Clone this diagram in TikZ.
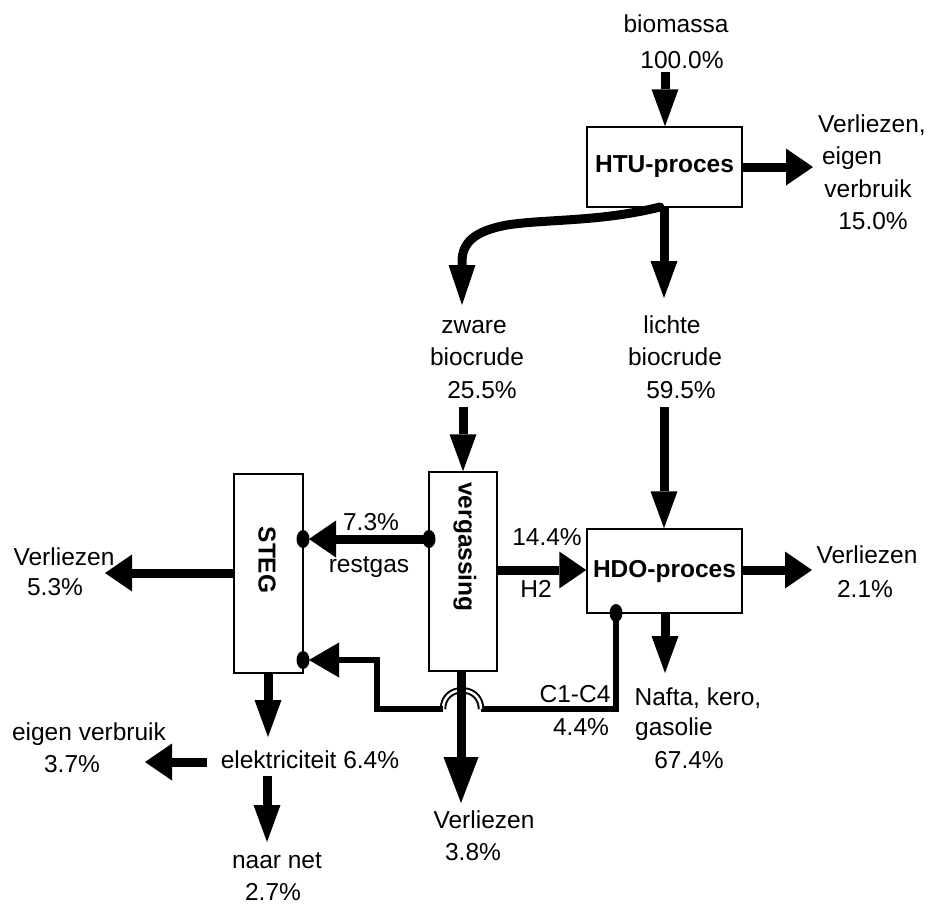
\documentclass[tikz,border=0pt]{standalone}
\usepackage{fontspec}
\setmainfont{Liberation Sans}
\usetikzlibrary{arrows.meta}
\tikzset{
  every node/.style={font=\fontsize{24.5}{29}\selectfont},
  lab/.style={anchor=base, inner sep=0pt},
  box/.style={draw, line width=1.5pt, inner sep=0pt, font=\fontsize{24.5}{29}\selectfont\bfseries},
  boxtxt/.style={inner sep=0pt, rotate=-90, font=\fontsize{24.5}{29}\selectfont\bfseries},
  flow/.style={line width=9pt},
  thinflow/.style={line width=6.5pt, line join=miter},
  av/.style={-{Triangle[width=27pt,length=37pt,line width=0pt]}},
  ah/.style={-{Triangle[width=37pt,length=27pt,line width=0pt]}},
  abig/.style={-{Triangle[width=35pt,length=46pt,line width=0pt]}},
  acurve/.style={-{Triangle[width=27pt,length=40pt,line width=0pt]}}
}
\begin{document}
\begin{tikzpicture}[x=1pt,y=-1pt]
\useasboundingbox (0,0) rectangle (934,906);

% boxes
\node[box, minimum width=155pt, minimum height=80pt] (htu) at (664.5,167) {HTU-proces};
\node[box, minimum width=155pt, minimum height=84pt] (hdo) at (664.5,571) {HDO-proces};
\node[box, minimum width=68pt, minimum height=199pt] (verg) at (463,571.5) {};
\node[box, minimum width=69pt, minimum height=199pt] (steg) at (268.5,573.5) {};
\node[boxtxt] (tverg) at (465,547) {vergassing};
\node[boxtxt] (tsteg) at (267,560) {STEG};

% texts
\node[lab] (bio1) at (676,32) {biomassa};
\node[lab] (bio2) at (682,68) {100.0\%};
\node[lab] (v1) at (872,132) {Verliezen,};
\node[lab] (v2) at (852,164) {eigen};
\node[lab] (v3) at (868,197) {verbruik};
\node[lab] (v4) at (873,229) {15.0\%};
\node[lab] (z1) at (474,333) {zware};
\node[lab] (z2) at (477,365) {biocrude};
\node[lab] (z3) at (482,398) {25.5\%};
\node[lab] (l1) at (672,333) {lichte};
\node[lab] (l2) at (675,365) {biocrude};
\node[lab] (l3) at (681,398) {59.5\%};
\node[lab] (r1) at (371,530) {7.3\%};
\node[lab] (r2) at (369,572) {restgas};
\node[lab] (h1) at (547,545) {14.4\%};
\node[lab] (h2) at (536,597) {H2};
\node[lab] (hv1) at (867,563) {Verliezen};
\node[lab] (hv2) at (865,597) {2.1\%};
\node[lab] (sv1) at (64,565) {Verliezen};
\node[lab] (sv2) at (55,595) {5.3\%};
\node[lab] (cc1) at (575,702) {C1-C4};
\node[lab] (cc2) at (581,735) {4.4\%};
\node[lab] (n1) at (698,705) {Nafta, kero,};
\node[lab] (n2) at (674,735) {gasolie};
\node[lab] (n3) at (689,768) {67.4\%};
\node[lab] (gv1) at (484,828) {Verliezen};
\node[lab] (gv2) at (473,860) {3.8\%};
\node[lab] (e1) at (89,740) {eigen verbruik};
\node[lab] (e2) at (72,772) {3.7\%};
\node[lab] (el) at (310,768) {elektriciteit 6.4\%};
\node[lab] (nn1) at (277,868) {naar net};
\node[lab] (nn2) at (273,900) {2.7\%};

% coordinates for free ends and bends
\coordinate (bioS) at (665,72);
\coordinate (htuR) at (813,167);
\coordinate (lichteT) at (664,298);
\coordinate (curveS) at (660,207);
\coordinate (curveM) at (507,225);
\coordinate (curveV) at (462,262);
\coordinate (curveT) at (462,305);
\coordinate (zwS) at (463,407);
\coordinate (liS) at (664,407);
\coordinate (restL) at (429,539);
\coordinate (restR) at (303,539);
\coordinate (restT) at (309,539);
\coordinate (h2S) at (497,570);
\coordinate (hdoR) at (812,570);
\coordinate (hdoB) at (665,613);
\coordinate (hdoBT) at (665,673);
\coordinate (cS) at (616,613);
\coordinate (cC1) at (616,709);
\coordinate (bumpR) at (481,709);
\coordinate (bumpL) at (443,709);
\coordinate (cC2) at (377,709);
\coordinate (cC3) at (377,660);
\coordinate (cT) at (309,660);
\coordinate (cD) at (303,660);
\coordinate (vergB) at (461,671);
\coordinate (vergT) at (461,803);
\coordinate (stegL) at (234,573);
\coordinate (stegLT) at (105,573);
\coordinate (stegB) at (268,673);
\coordinate (stegBT) at (268,737);
\coordinate (elL) at (207,762);
\coordinate (elLT) at (145,762);
\coordinate (elB) at (267,776);
\coordinate (elBT) at (267,842);

% flows
\draw[flow, av] (bioS) -- (bioS |- htu.north);
\draw[flow, ah] (htu.east |- htuR) -- (htuR);
\draw[flow, av] (htu.south -| lichteT) -- (lichteT);
\draw[flow, acurve, line cap=round] (curveS) .. controls (600,222) and (545,219) .. (curveM)
   .. controls (475,231) and (462,242) .. (curveV) -- (curveT);
\draw[flow, av] (zwS) -- (zwS |- verg.north);
\draw[flow, av] (liS) -- (liS |- hdo.north);
\draw[flow, ah] (restL) -- (restT);
\fill (restL) ellipse [x radius=6.5pt, y radius=9pt];
\fill (restR) ellipse [x radius=6.5pt, y radius=9pt];
\draw[flow, ah] (h2S) -- (h2S -| hdo.west);
\draw[flow, ah] (hdo.east |- hdoR) -- (hdoR);
\draw[flow, av] (hdoB) -- (hdoBT);

% C1-C4 line with bump
\draw[thinflow] (cS) -- (cC1) -- (bumpR);
\draw[line width=2pt, double=white, double distance=2.5pt] (bumpR) .. controls (481,684) and (443,684) .. (bumpL);
\draw[thinflow, -{Triangle[width=35pt,length=30pt,line width=0pt]}] (bumpL) -- (cC2) -- (cC3) -- (cT);
\fill (cS) ellipse [x radius=6.5pt, y radius=9pt];
\fill (cD) ellipse [x radius=6.5pt, y radius=9pt];

\draw[flow, abig] (vergB) -- (vergT);
\draw[flow, ah] (stegL) -- (stegLT);
\draw[flow, av] (stegB) -- (stegBT);
\draw[flow, ah] (elL) -- (elLT);
\draw[flow, av] (elB) -- (elBT);
\end{tikzpicture}
\end{document}
